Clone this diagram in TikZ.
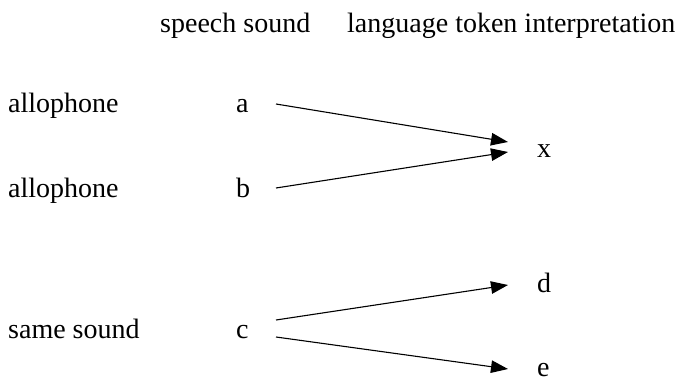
\documentclass[tikz,border=0pt]{standalone}
\usepackage{fontspec}
\setmainfont{Liberation Serif}
\usetikzlibrary{arrows.meta}
\begin{document}
\begin{tikzpicture}[x=1pt,y=-1pt,
  lbl/.style={anchor=base west,inner sep=0pt,font=\fontsize{28}{30}\selectfont},
  conn/.style={line width=1.1pt,-{Triangle[length=17pt,width=12.5pt]}}]
\useasboundingbox (0,0) rectangle (694,382);
\node[lbl] (h1) at (160,33) {speech sound};
\node[lbl] (h2) at (347,33) {language token interpretation};
\node[lbl] (l1) at (8,113) {allophone};
\node[lbl] (a) at (236,113) {a};
\node[lbl] (l2) at (8,198) {allophone};
\node[lbl] (b) at (236,198) {b};
\node[lbl] (x) at (537,158) {x};
\node[lbl] (d) at (537,293) {d};
\node[lbl] (l3) at (8,338) {same sound};
\node[lbl] (c) at (236,338) {c};
\node[lbl] (e) at (537,377) {e};
\coordinate (a1) at (276,104);
\coordinate (a2) at (508,142);
\coordinate (b1) at (276,188);
\coordinate (b2) at (508,152);
\coordinate (c1) at (276,320);
\coordinate (d2) at (508,285);
\coordinate (c2) at (276,337);
\coordinate (e2) at (508,369);
\draw[conn] (a1) -- (a2);
\draw[conn] (b1) -- (b2);
\draw[conn] (c1) -- (d2);
\draw[conn] (c2) -- (e2);
\end{tikzpicture}
\end{document}
